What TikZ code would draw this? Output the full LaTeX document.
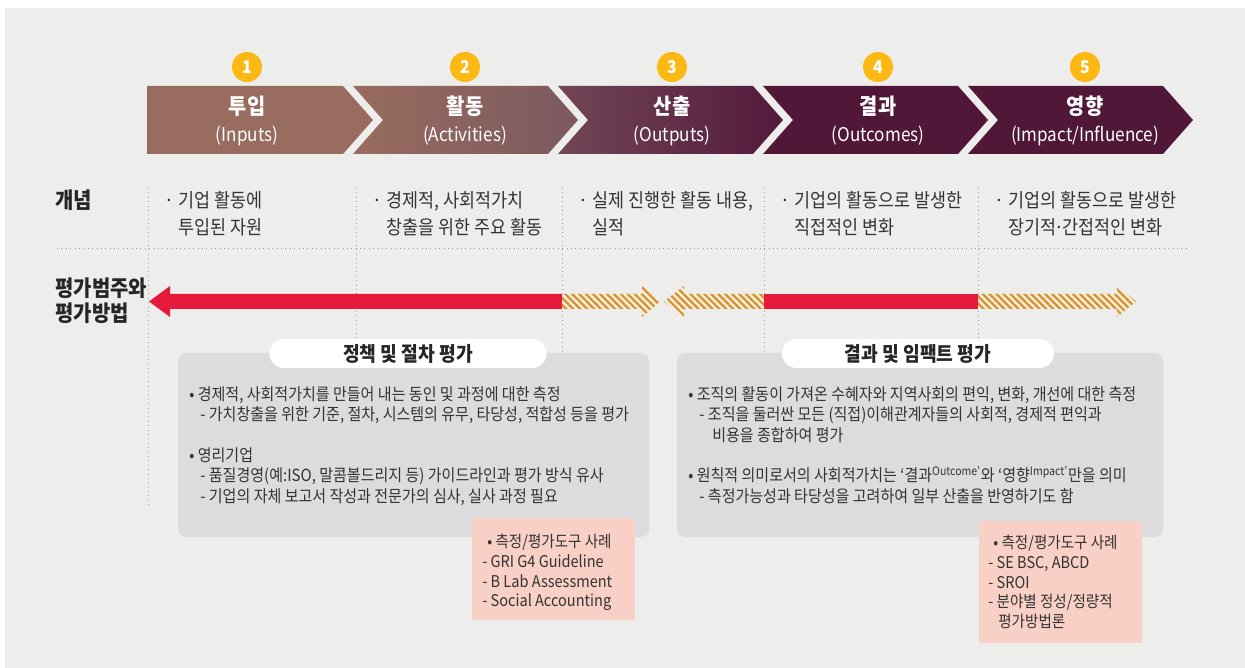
\documentclass[tikz,border=0pt]{standalone}
\usepackage{fontspec}
\setmainfont{Noto Sans CJK KR}[FakeStretch=0.9]
\usetikzlibrary{positioning,patterns.meta}

\definecolor{bgback}{HTML}{EDEDEB}
\definecolor{boxgray}{HTML}{DCDCDE}
\definecolor{boxpink}{HTML}{F9D0C5}
\definecolor{stepa}{HTML}{986C5E}
\definecolor{stepb}{HTML}{7C5860}
\definecolor{stepc}{HTML}{714656}
\definecolor{stepd}{HTML}{52193B}
\definecolor{stepe}{HTML}{501739}
\definecolor{evalred}{HTML}{E5193A}
\definecolor{hatchorange}{HTML}{D6922B}
\definecolor{hatchbg}{HTML}{F7EEE0}
\definecolor{numyellow}{HTML}{FDB913}
\definecolor{textdark}{HTML}{333333}
\definecolor{linegray}{HTML}{9C9C9C}

\tikzset{
  numdot/.style={circle, fill=numyellow, minimum size=0.6cm, inner sep=0pt, text=white, font=\bfseries\fontsize{10}{12}\selectfont},
  steptitle/.style={text=white, font=\bfseries\fontsize{12.5}{14}\selectfont, inner sep=0pt},
  stepsub/.style={text=white, font=\fontsize{10.8}{12}\selectfont, inner sep=0pt},
  rowhead/.style={text=black!85, font=\bfseries\fontsize{12.6}{14.2}\selectfont, align=left, inner sep=0pt, anchor=west},
  concept/.style={text=textdark, font=\fontsize{11}{15.3}\selectfont, align=left, inner sep=0pt, anchor=north west},
  body/.style={text=textdark, font=\fontsize{9.5}{11.6}\selectfont, align=left, inner sep=0pt, anchor=north west},
  tooltext/.style={text=textdark, font=\fontsize{9.2}{11.2}\selectfont, align=left, inner sep=0pt, anchor=north west},
  pill/.style={fill=white, rounded corners=0.29cm, minimum height=0.58cm, inner sep=0pt, font=\bfseries\fontsize{11.5}{13}\selectfont, text=black!85},
  guide/.style={linegray, dotted, line width=0.5pt},
  hatched/.style={fill=hatchbg, postaction={pattern={Lines[angle=-45,distance=2.8pt,line width=1.3pt]}, pattern color=hatchorange}},
}

\begin{document}
\begin{tikzpicture}[x=0.02cm, y=-0.02cm]
  \useasboundingbox (0,0) rectangle (1245,668);
  \fill[bgback] (5,8) rectangle (1245,668);

  % steps
  \fill[stepa] (147,86) -- (343,86) -- (373,120) -- (343,154) -- (147,154) -- cycle;
  \foreach \l/\ca/\cb in {353/stepa/stepb, 558/stepc/stepd, 763/stepe/stepe, 968/stepe/stepe}
    \shade[left color=\ca, right color=\cb] (\l,86) -- ++(195,0) -- ++(30,34) -- ++(-30,34) -- ++(-195,0) -- ++(30,-34) -- cycle;
  \foreach \i/\x/\t/\s in {1/247/투입/Inputs, 2/465/활동/Activities, 3/672/산출/Outputs, 4/878/결과/Outcomes, 5/1085/영향/{Impact/Influence}}{
    \node[numdot] (n\i) at (\x,67) {\i};
    \node[steptitle] (t\i) at (\x,106) {\t};
    \node[stepsub] (s\i) at (\x,136) {(\s)};
  }

  % grid
  \draw[guide] (57,248) -- (1187,248);
  \draw[guide] (148,188) -- (148,508);
  \foreach \x in {356,562,764,978}
    \draw[guide] (\x,188) -- (\x,353);

  \node[rowhead] (concepthead) at (55,200) {개념};
  \node[rowhead] (evalhead) at (55,300.5) {평가범주와\\평가방법};

  \node[concept] (c1) at (164,191) {\makebox[0.29cm][l]{·}기업 활동에\\\hspace*{0.29cm}투입된 자원};
  \node[concept] (c2) at (372,191) {\makebox[0.29cm][l]{·}경제적, 사회적가치\\\hspace*{0.29cm}창출을 위한 주요 활동};
  \node[concept] (c3) at (578,191) {\makebox[0.29cm][l]{·}실제 진행한 활동 내용,\\\hspace*{0.29cm}실적};
  \node[concept] (c4) at (780,191) {\makebox[0.29cm][l]{·}기업의 활동으로 발생한\\\hspace*{0.29cm}직접적인 변화};
  \node[concept] (c5) at (994,191) {\makebox[0.29cm][l]{·}기업의 활동으로 발생한\\\hspace*{0.29cm}장기적\makebox[0.3em]{·}간접적인 변화};

  % evaluation arrows
  \fill[evalred] (562,294) -- (170,294) -- (170,286) -- (149,301.5) -- (170,317) -- (170,309) -- (562,309) -- cycle;
  \path[hatched] (562,294) -- (642,294) -- (642,286) -- (660,301.5) -- (642,317) -- (642,309) -- (562,309) -- cycle;
  \path[hatched] (764,294) -- (684,294) -- (684,286) -- (664,301.5) -- (684,317) -- (684,309) -- (764,309) -- cycle;
  \fill[evalred] (764,294) rectangle (978,309);
  \path[hatched] (978,294) -- (1117,294) -- (1117,286) -- (1136,301.5) -- (1117,317) -- (1117,309) -- (978,309) -- cycle;

  % boxes
  \fill[boxgray, rounded corners=0.16cm] (178,353) rectangle (649,537);
  \fill[boxgray, rounded corners=0.16cm] (677,353) rectangle (1163,537);
  \node[pill, minimum width=5.54cm] (policy) at (408,353.5) {정책 및 절차 평가};
  \node[pill, minimum width=5.44cm] (impact) at (918,353.5) {결과 및 임팩트 평가};
  \fill[boxpink] (472,518) rectangle (635,620);
  \fill[boxpink] (979,521) rectangle (1142,643);

  \node[body] (policytext) at (189,386) {• 경제적, 사회적가치를 만들어 내는 동인 및 과정에 대한 측정\\
    \hspace*{0.22cm}- 가치창출을 위한 기준, 절차, 시스템의 유무, 타당성, 적합성 등을 평가\\[11.6pt]
    • 영리기업\\
    \hspace*{0.22cm}- 품질경영(예:ISO, 말콤볼드리지 등) 가이드라인과 평가 방식 유사\\
    \hspace*{0.22cm}- 기업의 자체 보고서 작성과 전문가의 심사, 실사 과정 필요};
  \node[body] (impacttext) at (688,386) {• 조직의 활동이 가져온 수혜자와 지역사회의 편익, 변화, 개선에 대한 측정\\
    \hspace*{0.22cm}- 조직을 둘러싼 모든 (직접)이해관계자들의 사회적, 경제적 편익과\\
    \hspace*{0.48cm}비용을 종합하여 평가\\[11.6pt]
    • 원칙적 의미로서의 사회적가치는 ‘결과\textsuperscript{Outcome’}와 ‘영향\textsuperscript{Impact’}만을 의미\\
    \hspace*{0.22cm}- 측정가능성과 타당성을 고려하여 일부 산출을 반영하기도 함};

  \node[tooltext] (policytools) at (482,534) {\hspace*{0.1cm}• 측정/평가도구 사례\\- GRI G4 Guideline\\- B Lab Assessment\\- Social Accounting};
  \node[tooltext] (impacttools) at (988,535) {\hspace*{0.1cm}• 측정/평가도구 사례\\- SE BSC, ABCD\\- SROI\\- 분야별 정성/정량적\\\hspace*{0.2cm}평가방법론};
\end{tikzpicture}
\end{document}
